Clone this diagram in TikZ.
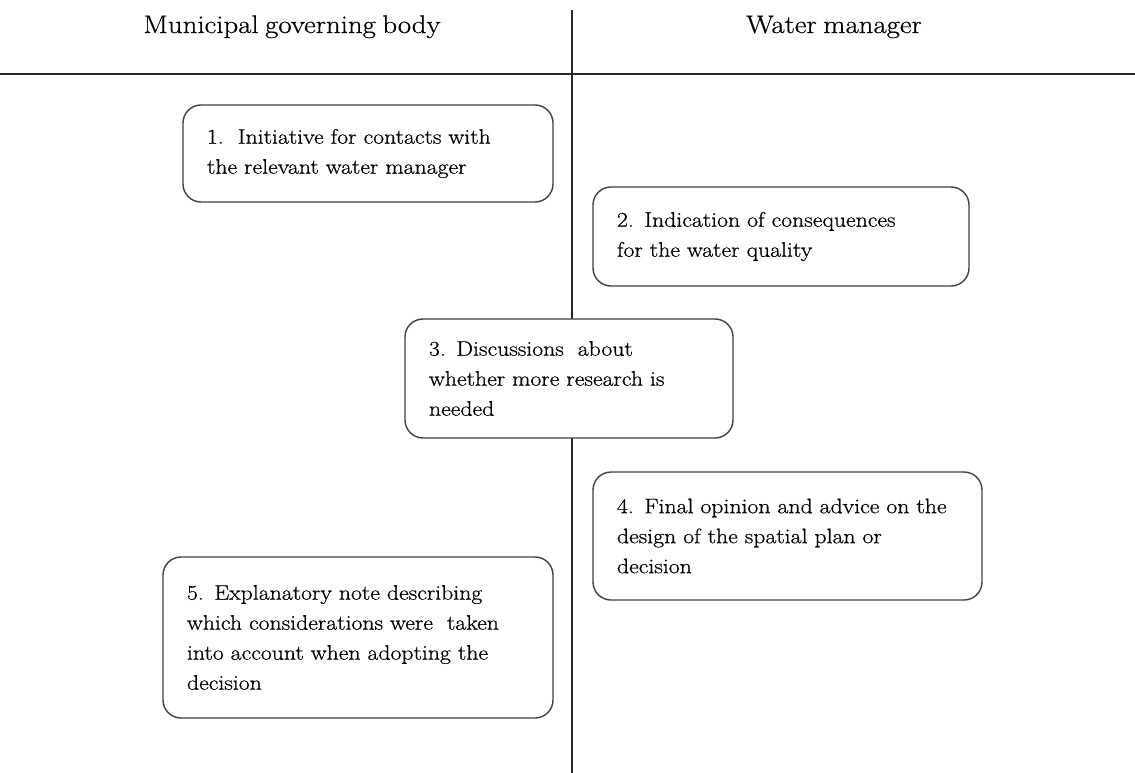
\documentclass[tikz,border=0pt]{standalone}
\usepackage{fontspec}
\setmainfont{Latin Modern Roman}[FakeStretch=1.13, FakeBold=0.6]
\newcommand{\myboxfont}{\fontsize{21}{30}\selectfont\fontdimen2\font=5.4pt\fontdimen3\font=1pt\fontdimen4\font=1pt\relax}
\newcommand{\myhdrfont}{\fontsize{25.5}{28}\selectfont\fontdimen2\font=6.5pt\relax}
\newcommand{\oneline}[1]{\mbox{#1}}
\begin{document}
\begin{tikzpicture}[x=1pt,y=-1pt,
  stepbox/.style={draw=black!75, line width=1.4pt, fill=white, rounded corners=18pt,
    inner xsep=24pt, inner ysep=0pt, align=left, font=\myboxfont},
  header/.style={anchor=base, font=\myhdrfont},
  sep/.style={draw=black!85, line width=1.4pt}]
\useasboundingbox (0,0) rectangle (1135,773);
\coordinate (hl) at (0,74);
\coordinate (hr) at (1135,74);
\coordinate (vt) at (572,10);
\coordinate (vb) at (572,773);
\draw[sep] (hl) -- (hr);
\draw[sep] (vt) -- (vb);
\node[header] (h1) at (292,33) {Municipal governing body};
\node[header] (h2) at (834,33) {Water manager};
\node[stepbox, minimum width=370pt, minimum height=97pt, text width=322pt] (b1) at (368,153.5)
  {\oneline{1.\ \ Initiative for contacts with}\\\oneline{the relevant water manager}};
\node[stepbox, minimum width=376pt, minimum height=99pt, text width=328pt] (b2) at (781,236.5)
  {\oneline{2. Indication of consequences}\\\oneline{for the water quality}};
\node[stepbox, minimum width=328pt, minimum height=119pt, text width=280pt] (b3) at (569,378.5)
  {\oneline{3. Discussions\ \ about}\\\oneline{whether more research is}\\\oneline{needed}};
\node[stepbox, minimum width=389pt, minimum height=128pt, text width=341pt] (b4) at (787.5,536)
  {\oneline{4. Final opinion and advice on the}\\\oneline{design of the spatial plan or}\\\oneline{decision}};
\node[stepbox, minimum width=390pt, minimum height=161pt, text width=342pt] (b5) at (358,637.5)
  {\oneline{5. Explanatory note describing}\\\oneline{which considerations were\ \ taken}\\\oneline{into account when adopting the}\\\oneline{decision}};
\end{tikzpicture}
\end{document}
